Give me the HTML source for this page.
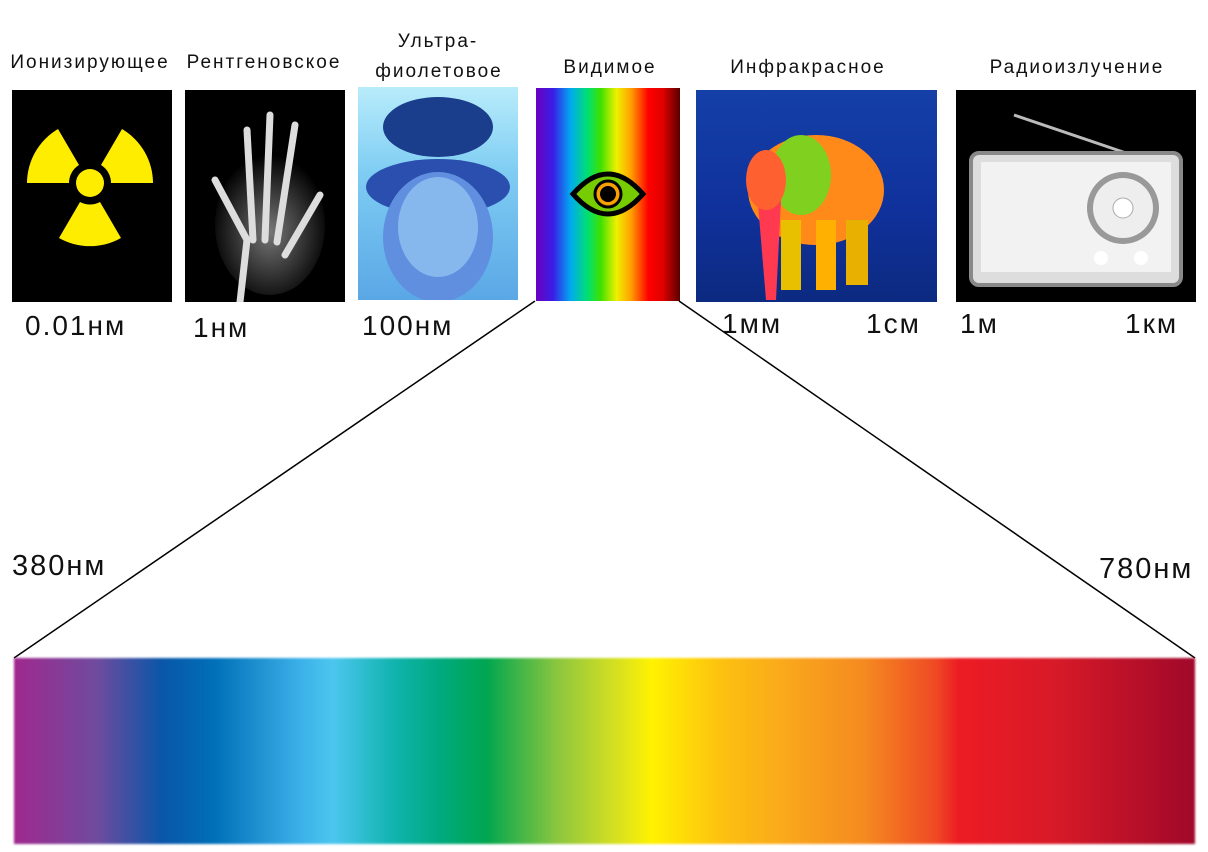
<!DOCTYPE html>
<html><head><meta charset="utf-8"><style>
html,body{margin:0;padding:0;background:#fff;}
body{width:1208px;height:852px;position:relative;overflow:hidden;font-family:"Liberation Sans","DejaVu Sans",sans-serif;color:#111;}
.t{position:absolute;font-size:19px;letter-spacing:2px;white-space:nowrap;transform:translateX(-50%);line-height:1;}
.w{position:absolute;font-size:28px;letter-spacing:2px;white-space:nowrap;line-height:1;}
.p{position:absolute;overflow:hidden;}
</style></head><body>
<div class="t" style="left:90px;top:53px">Ионизирующее</div>
<div class="t" style="left:264px;top:53px">Рентгеновское</div>
<div class="t" style="left:438px;top:32px">Ультра-</div>
<div class="t" style="left:439px;top:62px">фиолетовое</div>
<div class="t" style="left:610px;top:58px">Видимое</div>
<div class="t" style="left:808px;top:58px">Инфракрасное</div>
<div class="t" style="left:1077px;top:58px">Радиоизлучение</div>

<div class="p" style="left:12px;top:90px;width:160px;height:212px;background:#000">
<svg width="160" height="212"><g fill="#ffed00" transform="translate(78,93)">
<circle r="14"/>
<path d="M-11,-18 L-32,-54 A63,63 0 0 0 -63,0 L-21,0 A21,21 0 0 1 -11,-18Z"/>
<path d="M11,-18 L32,-54 A63,63 0 0 1 63,0 L21,0 A21,21 0 0 0 11,-18Z"/>
<path d="M-10,19 L-31,55 A63,63 0 0 0 31,55 L10,19 A21,21 0 0 1 -10,19Z"/>
</g></svg></div>

<div class="p" style="left:185px;top:90px;width:160px;height:212px;background:#000">
<svg width="160" height="212"><defs><radialGradient id="hg" cx="50%" cy="55%" r="55%"><stop offset="0" stop-color="#777"/><stop offset="1" stop-color="#000"/></radialGradient></defs>
<ellipse cx="85" cy="135" rx="55" ry="70" fill="url(#hg)"/>
<g stroke="#ddd" stroke-width="7" stroke-linecap="round" fill="none">
<path d="M55,212 L62,150 L30,90"/><path d="M68,150 L62,40"/><path d="M80,150 L85,25"/><path d="M92,152 L110,35"/><path d="M100,165 L135,105"/></g></svg></div>

<div class="p" style="left:358px;top:87px;width:160px;height:213px;background:linear-gradient(#b8ecfb,#7fcdf3 40%,#5aa7e6)">
<svg width="160" height="213"><ellipse cx="80" cy="40" rx="55" ry="30" fill="#1a3e8c"/><ellipse cx="80" cy="100" rx="72" ry="28" fill="#2a4fae"/>
<ellipse cx="80" cy="150" rx="55" ry="65" fill="#5f8fde"/><ellipse cx="80" cy="140" rx="40" ry="50" fill="#86b8ee"/></svg></div>

<div class="p" style="left:536px;top:88px;width:144px;height:213px;background:linear-gradient(90deg,#6a00c0 0%,#3a1ee6 12%,#00aaf0 24%,#00e070 36%,#40e000 45%,#f0f000 56%,#ffa000 66%,#ff0000 78%,#e00000 88%,#5a0000 100%)">
<svg width="144" height="213"><path d="M37,106 Q72,66 107,106 Q72,146 37,106Z" fill="#7c0" stroke="#000" stroke-width="5"/><circle cx="72" cy="106" r="13" fill="#f7a000" stroke="#000" stroke-width="3"/><circle cx="72" cy="106" r="8" fill="#000"/></svg></div>

<div class="p" style="left:696px;top:90px;width:241px;height:212px;background:linear-gradient(#1440a8,#10309a 60%,#0c2a80)">
<svg width="241" height="212"><ellipse cx="120" cy="100" rx="68" ry="55" fill="#ff8a1a"/><ellipse cx="105" cy="85" rx="30" ry="40" fill="#80d020"/>
<path d="M60,90 L70,210 L80,210 L85,110Z" fill="#ff3a50"/><rect x="85" y="130" width="20" height="70" fill="#e8c000"/><rect x="150" y="130" width="22" height="65" fill="#e8b000"/><rect x="120" y="130" width="20" height="70" fill="#ffb000"/><ellipse cx="70" cy="90" rx="20" ry="30" fill="#ff6030"/></svg></div>

<div class="p" style="left:956px;top:90px;width:240px;height:212px;background:#000">
<svg width="240" height="212"><line x1="58" y1="25" x2="170" y2="63" stroke="#bbb" stroke-width="3"/>
<rect x="15" y="63" width="210" height="132" rx="8" fill="#ddd" stroke="#888" stroke-width="4"/>
<rect x="25" y="72" width="190" height="110" fill="#f2f2f2"/><circle cx="167" cy="118" r="36" fill="#999"/><circle cx="167" cy="118" r="30" fill="#eee"/><circle cx="167" cy="118" r="10" fill="#fff" stroke="#aaa"/>
<circle cx="145" cy="168" r="7" fill="#fff"/><circle cx="185" cy="168" r="7" fill="#fff"/></svg></div>

<div class="w" style="left:25px;top:312px">0.01нм</div>
<div class="w" style="left:193px;top:314px">1нм</div>
<div class="w" style="left:362px;top:312px">100нм</div>
<div class="w" style="left:722px;top:310px">1мм</div>
<div class="w" style="left:866px;top:310px">1см</div>
<div class="w" style="left:960px;top:310px">1м</div>
<div class="w" style="left:1125px;top:310px">1км</div>

<svg style="position:absolute;left:0;top:0" width="1208" height="852">
<line x1="535" y1="301" x2="14" y2="658" stroke="#000" stroke-width="1.5"/>
<line x1="679" y1="301" x2="1195" y2="658" stroke="#000" stroke-width="1.5"/></svg>

<div class="w" style="left:12px;top:552px;font-size:29px">380нм</div>
<div class="w" style="left:1099px;top:555px;font-size:29px">780нм</div>

<div style="position:absolute;left:14px;top:658px;width:1181px;height:186px;background:linear-gradient(90deg,#a0288e 0%,#6f4b9e 7%,#0a56a8 12.5%,#0070b8 17%,#3aaee6 24%,#4cc6f0 27%,#12b4b0 32%,#00aa80 36%,#00a650 40%,#8cc63f 46%,#d6e021 51%,#fff200 54%,#fdc010 60%,#f9a51c 66%,#f58a20 72%,#ef4a24 78%,#ed1c24 80%,#d81a28 88%,#a0082a 100%);filter:blur(1px)"></div>
</body></html>
